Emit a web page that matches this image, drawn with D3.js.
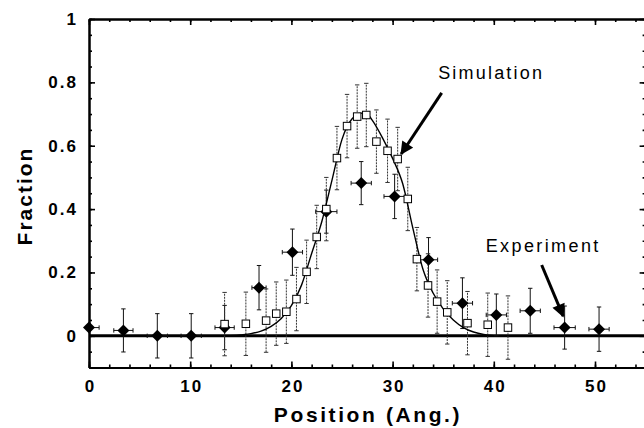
<!DOCTYPE html>
<html>
<head>
<meta charset="utf-8">
<script src="https://cdn.jsdelivr.net/npm/d3@7"></script>
<style>
  html, body { margin: 0; padding: 0; background: #fff; }
  svg { display: block; }
  text { font-family: Arial, "Liberation Sans", Helvetica, sans-serif; fill: #000; }
</style>
</head>
<body>
<svg id="chart" width="644" height="428"></svg>
<script>
// Experimental occupancy profile (filled diamonds, x and y error bars)
const expX    = [0, 3.4, 6.75, 10.1, 13.4, 16.8, 20.1, 23.45, 26.9, 30.2, 33.55, 36.9, 40.25, 43.6, 47.0, 50.4];
const expY    = [0.026, 0.017, 0.0, 0.0, 0.026, 0.152, 0.264, 0.392, 0.482, 0.44, 0.24, 0.103, 0.066, 0.079, 0.026, 0.021];
const expYErr = [0, 0.068, 0.07, 0.07, 0.07, 0.07, 0.073, 0.068, 0.068, 0.07, 0.07, 0.08, 0.066, 0.071, 0.068, 0.07];
const expXErr = [1.0, 0.95, 1.0, 1.0, 0.95, 0.7, 1.0, 1.05, 1.0, 1.05, 0.9, 1.0, 1.0, 1.0, 1.05, 1.0];

// Simulated profile (open squares, y error bars)
const simX    = [13.4, 15.5, 17.5, 18.5, 19.5, 20.5, 21.5, 22.5, 23.45, 24.5, 25.5, 26.5, 27.4, 28.4, 29.5, 30.5, 31.5, 32.4, 33.5, 34.4, 35.4, 37.4, 39.4, 41.4];
const simY    = [0.037, 0.038, 0.048, 0.07, 0.076, 0.116, 0.202, 0.312, 0.40, 0.561, 0.662, 0.692, 0.697, 0.613, 0.584, 0.558, 0.432, 0.242, 0.159, 0.108, 0.074, 0.04, 0.035, 0.026];
const simYErr = [0.1, 0.1, 0.1, 0.1, 0.1, 0.1, 0.1, 0.1, 0.1, 0.1, 0.1, 0.1, 0.1, 0.1, 0.1, 0.1, 0.1, 0.1, 0.1, 0.1, 0.1, 0.1, 0.1, 0.1];

// Smooth fit through the simulated profile
const fitX = [14, 15, 16, 17, 18, 19, 20, 21, 22, 23, 24, 25, 26, 27, 27.5, 28, 29, 30, 31, 32, 33, 34, 35, 36, 37, 38, 39, 40];
const fitY = [0.0, 0.003, 0.007, 0.015, 0.03, 0.055, 0.095, 0.16, 0.26, 0.36, 0.49, 0.62, 0.685, 0.703, 0.70, 0.68, 0.625, 0.56, 0.48, 0.34, 0.21, 0.135, 0.085, 0.05, 0.026, 0.012, 0.004, 0.0];

// Axis ticks and labels
const xMajor = [0, 10, 20, 30, 40, 50];
const xMajorLabels = ["0", "10", "20", "30", "40", "50"];
const yMajor = [0, 0.2, 0.4, 0.6, 0.8, 1];
const yMajorLabels = ["0", "0.2", "0.4", "0.6", "0.8", "1"];
const xMinor = d3.range(0, 55.01, 2);
const yMinor = d3.range(-0.1, 1.001, 0.05).map(v => +v.toFixed(2));

const svg = d3.select("#chart");
const plotL = 89, plotR = 645.6, plotT = 19, plotB = 367.5;

const x = d3.scaleLinear().domain([0, 55]).range([plotL, plotR]);
const y = d3.scaleLinear().domain([-0.1, 1]).range([plotB, plotT]);

const defs = svg.append("defs");
defs.append("clipPath").attr("id", "plotClip")
  .append("rect").attr("x", plotL).attr("y", plotT).attr("width", plotR - plotL).attr("height", plotB - plotT);

// ---- axes ----
function styleAxis(g) {
  g.select(".domain").attr("stroke", "#000").attr("stroke-width", 2);
  g.selectAll(".tick line").attr("stroke", "#000").attr("stroke-width", 1.6);
}
// bottom
svg.append("g").attr("transform", `translate(0,${plotB})`)
  .call(d3.axisBottom(x).tickValues(xMinor).tickSize(-3).tickFormat("").tickSizeOuter(0))
  .call(styleAxis);
svg.append("g").attr("transform", `translate(0,${plotB})`)
  .call(d3.axisBottom(x).tickValues(xMajor).tickSize(-6).tickSizeOuter(0)
    .tickPadding(12).tickFormat((d, i) => xMajorLabels[i]))
  .call(styleAxis)
  .call(g => g.selectAll(".tick text")
    .attr("font-size", 17).attr("font-weight", "bold").attr("letter-spacing", 2)
    .attr("dx", 1).attr("font-family", "Arial, 'Liberation Sans', sans-serif"));
// top
svg.append("g").attr("transform", `translate(0,${plotT})`)
  .call(d3.axisTop(x).tickValues(xMinor).tickSize(-3).tickFormat("").tickSizeOuter(0))
  .call(styleAxis);
svg.append("g").attr("transform", `translate(0,${plotT})`)
  .call(d3.axisTop(x).tickValues(xMajor).tickSize(-6).tickFormat("").tickSizeOuter(0))
  .call(styleAxis);
// left
svg.append("g").attr("transform", `translate(${plotL},0)`)
  .call(d3.axisLeft(y).tickValues(yMinor).tickSize(-3).tickFormat("").tickSizeOuter(0))
  .call(styleAxis);
svg.append("g").attr("transform", `translate(${plotL},0)`)
  .call(d3.axisLeft(y).tickValues(yMajor).tickSize(-6).tickSizeOuter(0)
    .tickPadding(11).tickFormat((d, i) => yMajorLabels[i]))
  .call(styleAxis)
  .call(g => g.selectAll(".tick text")
    .attr("font-size", 17).attr("font-weight", "bold").attr("letter-spacing", 2)
    .attr("font-family", "Arial, 'Liberation Sans', sans-serif"));
// right
svg.append("g").attr("transform", `translate(${plotR},0)`)
  .call(d3.axisRight(y).tickValues(yMinor).tickSize(-3).tickFormat("").tickSizeOuter(0))
  .call(styleAxis);
svg.append("g").attr("transform", `translate(${plotR},0)`)
  .call(d3.axisRight(y).tickValues(yMajor).tickSize(-6).tickFormat("").tickSizeOuter(0))
  .call(styleAxis);

// axis titles
svg.append("text")
  .attr("x", 368).attr("y", 422)
  .attr("text-anchor", "middle").attr("font-size", 21).attr("font-weight", "bold")
  .attr("letter-spacing", 2.6)
  .text("Position (Ang.)");
svg.append("text")
  .attr("transform", `translate(32,196) rotate(-90)`)
  .attr("text-anchor", "middle").attr("font-size", 21).attr("font-weight", "bold")
  .attr("letter-spacing", 2)
  .text("Fraction");

// zero line
svg.append("line")
  .attr("x1", plotL).attr("x2", plotR).attr("y1", y(0)).attr("y2", y(0))
  .attr("stroke", "#000").attr("stroke-width", 3);

const plot = svg.append("g").attr("clip-path", "url(#plotClip)");
const cap = 2.2;

// ---- experiment: error bars ----
const exp = expX.map((v, i) => ({ x: v, y: expY[i], ey: expYErr[i], ex: expXErr[i] }));
const eb = plot.append("g").attr("stroke", "#111").attr("stroke-width", 1);
exp.forEach(d => {
  if (d.ey > 0) {
    eb.append("line").attr("x1", x(d.x)).attr("x2", x(d.x)).attr("y1", y(d.y - d.ey)).attr("y2", y(d.y + d.ey));
    eb.append("line").attr("x1", x(d.x) - cap).attr("x2", x(d.x) + cap).attr("y1", y(d.y + d.ey)).attr("y2", y(d.y + d.ey));
    eb.append("line").attr("x1", x(d.x) - cap).attr("x2", x(d.x) + cap).attr("y1", y(d.y - d.ey)).attr("y2", y(d.y - d.ey));
  }
  eb.append("line").attr("x1", x(d.x - d.ex)).attr("x2", x(d.x + d.ex)).attr("y1", y(d.y)).attr("y2", y(d.y));
  eb.append("line").attr("x1", x(d.x - d.ex)).attr("x2", x(d.x - d.ex)).attr("y1", y(d.y) - cap).attr("y2", y(d.y) + cap);
  eb.append("line").attr("x1", x(d.x + d.ex)).attr("x2", x(d.x + d.ex)).attr("y1", y(d.y) - cap).attr("y2", y(d.y) + cap);
});

// ---- experiment: diamonds ----
const dR = 6;
svg.append("g").selectAll("path").data(exp).join("path")
  .attr("d", d => {
    const cx = x(d.x), cy = y(d.y);
    return `M${cx},${cy - dR}L${cx + dR},${cy}L${cx},${cy + dR}L${cx - dR},${cy}Z`;
  })
  .attr("fill", "#000");

// ---- simulation: error bars (dotted) ----
const sim = simX.map((v, i) => ({ x: v, y: simY[i], ey: simYErr[i] }));
const sb = plot.append("g").attr("stroke", "#333").attr("stroke-width", 1);
sim.forEach(d => {
  sb.append("line").attr("x1", x(d.x)).attr("x2", x(d.x)).attr("y1", y(d.y - d.ey)).attr("y2", y(d.y + d.ey))
    .attr("stroke-dasharray", "2,1");
  sb.append("line").attr("x1", x(d.x) - cap).attr("x2", x(d.x) + cap).attr("y1", y(d.y + d.ey)).attr("y2", y(d.y + d.ey));
  sb.append("line").attr("x1", x(d.x) - cap).attr("x2", x(d.x) + cap).attr("y1", y(d.y - d.ey)).attr("y2", y(d.y - d.ey));
});

// ---- fitted curve ----
const fit = fitX.map((v, i) => [v, fitY[i]]);
plot.append("path")
  .datum(fit)
  .attr("d", d3.line().x(d => x(d[0])).y(d => y(d[1])).curve(d3.curveMonotoneX))
  .attr("fill", "none").attr("stroke", "#000").attr("stroke-width", 1.4);

// ---- simulation: squares ----
const sq = 7.5;
svg.append("g").selectAll("rect").data(sim).join("rect")
  .attr("x", d => x(d.x) - sq / 2).attr("y", d => y(d.y) - sq / 2)
  .attr("width", sq).attr("height", sq)
  .attr("fill", "#fff").attr("stroke", "#000").attr("stroke-width", 1);

// ---- annotations ----
defs.append("marker").attr("id", "arrowHead")
  .attr("viewBox", "0 0 10 10").attr("refX", 9).attr("refY", 5)
  .attr("markerWidth", 5).attr("markerHeight", 4.4).attr("orient", "auto")
  .attr("markerUnits", "strokeWidth")
  .append("path").attr("d", "M0,0L10,5L0,10Z").attr("fill", "#000");

function arrow(x0, y0, x1, y1) {
  svg.append("line")
    .attr("x1", x(x0)).attr("y1", y(y0)).attr("x2", x(x1)).attr("y2", y(y1))
    .attr("stroke", "#000").attr("stroke-width", 3).attr("marker-end", "url(#arrowHead)");
}
arrow(34.85, 0.767, 30.85, 0.574);
arrow(44.73, 0.2235, 46.85, 0.062);

svg.append("text").attr("x", x(34.5)).attr("y", y(0.8106))
  .attr("font-size", 18).attr("letter-spacing", 2.2).text("Simulation");
svg.append("text").attr("x", x(39.2)).attr("y", y(0.2655))
  .attr("font-size", 18).attr("letter-spacing", 2.4).text("Experiment");
</script>
</body>
</html>
